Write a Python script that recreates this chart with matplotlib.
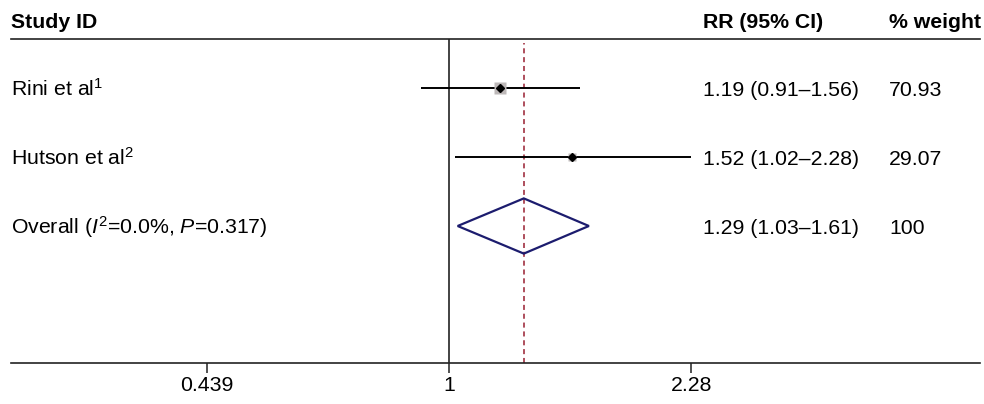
import matplotlib
matplotlib.use("Agg")
import matplotlib.pyplot as plt
import matplotlib.transforms as mtransforms
import numpy as np

plt.rcParams['font.family'] = ['Liberation Sans', 'DejaVu Sans']
plt.rcParams['mathtext.fontset'] = 'custom'
plt.rcParams['mathtext.rm'] = 'Liberation Sans'
plt.rcParams['mathtext.it'] = 'Liberation Sans:italic'
plt.rcParams['mathtext.bf'] = 'Liberation Sans:bold'

# ---- data ----
study_labels = [r"Rini et al$^{\mathregular{1}}$", r"Hutson et al$^{\mathregular{2}}$"]
study_rr = [1.19, 1.52]
study_lo = [0.91, 1.02]
study_hi = [1.56, 2.28]
study_weight = [70.93, 29.07]

overall_label = r"Overall ($\mathit{I}^{\mathregular{2}}$=0.0%, $\mathit{P}$=0.317)"
overall_rr = 1.29
overall_lo = 1.03
overall_hi = 1.61
overall_weight = "100"

tick_values = [0.439, 1, 2.28]
tick_labels = ["0.439", "1", "2.28"]

headers = ["Study ID", "RR (95% CI)", "% weight"]

# ---- figure ----
W, H = 984, 404
fig = plt.figure(figsize=(W / 100, H / 100), dpi=100)
ax_left, ax_right, ax_top, ax_bot = 11, 980, 39, 363
ax = fig.add_axes([ax_left / W, (H - ax_bot) / H, (ax_right - ax_left) / W, (ax_bot - ax_top) / H])
ax.set_xscale('log')
ax.set_xlim(0.2252, 6.095)
row_px = 69.0
first_row_px = 88.0
ax.set_ylim((ax_bot - first_row_px) / row_px, (ax_top - first_row_px) / row_px)

for s in ['left', 'right']:
    ax.spines[s].set_visible(False)
for s in ['top', 'bottom']:
    ax.spines[s].set_linewidth(1.2)
    ax.spines[s].set_color('#222222')

ax.set_yticks([])
ax.minorticks_off()
ax.set_xticks(tick_values)
ax.set_xticklabels(tick_labels)
ax.tick_params(axis='x', which='major', length=7, width=1.1, pad=2.5, labelsize=15.3, color='#222222')
ax.tick_params(axis='x', which='minor', length=0)

# reference lines
ax.axvline(1, color='#222222', lw=1.2, zorder=1)
ax.axvline(overall_rr, ymin=0, ymax=(ax_bot - 43) / (ax_bot - ax_top), color='#a8404f',
           lw=1.3, ls=(0, (2.8, 2.1)), zorder=1)

# studies
n = len(study_rr)
for i in range(n):
    ax.plot([study_lo[i], study_hi[i]], [i, i], color='black', lw=1.4, zorder=2, solid_capstyle='butt')
    ms = 1.08 * np.sqrt(study_weight[i])
    ax.plot(study_rr[i], i, marker='s', ms=ms, mfc='#bdb8b8', mec='none', zorder=3)
    ax.plot(study_rr[i], i, marker='D', ms=3.6, mfc='black', mec='black', zorder=4)

# overall diamond
yo = n
hh = 0.40
ax.fill([overall_lo, overall_rr, overall_hi, overall_rr, overall_lo],
        [yo, yo - hh, yo, yo + hh, yo], facecolor='none', edgecolor='#1c1c6e', lw=1.6, zorder=3)

# text columns
base = mtransforms.blended_transform_factory(fig.transFigure, ax.transData)
trans = mtransforms.offset_copy(base, fig=fig, x=0, y=-8, units='dots')
fs = 15.3
x_id = 11 / W
x_rr = 703 / W
x_w = 889 / W

hdr_y = (20.5 - first_row_px) / row_px
for xx, t in zip([x_id, x_rr, x_w], headers):
    fig.text(xx, hdr_y, t, transform=trans, fontsize=fs, fontweight='bold', va='baseline', ha='left')

for i in range(n):
    fig.text(x_id, i, study_labels[i], transform=trans, fontsize=fs, va='baseline', ha='left')
    fig.text(x_rr, i, f"{study_rr[i]:.2f} ({study_lo[i]:.2f}\u2013{study_hi[i]:.2f})",
             transform=trans, fontsize=fs, va='baseline', ha='left')
    fig.text(x_w, i, f"{study_weight[i]:.2f}", transform=trans, fontsize=fs, va='baseline', ha='left')

fig.text(x_id, yo, overall_label, transform=trans, fontsize=fs, va='baseline', ha='left')
fig.text(x_rr, yo, f"{overall_rr:.2f} ({overall_lo:.2f}\u2013{overall_hi:.2f})",
         transform=trans, fontsize=fs, va='baseline', ha='left')
fig.text(x_w, yo, overall_weight, transform=trans, fontsize=fs, va='baseline', ha='left')

fig.savefig("out.png", dpi=100)
